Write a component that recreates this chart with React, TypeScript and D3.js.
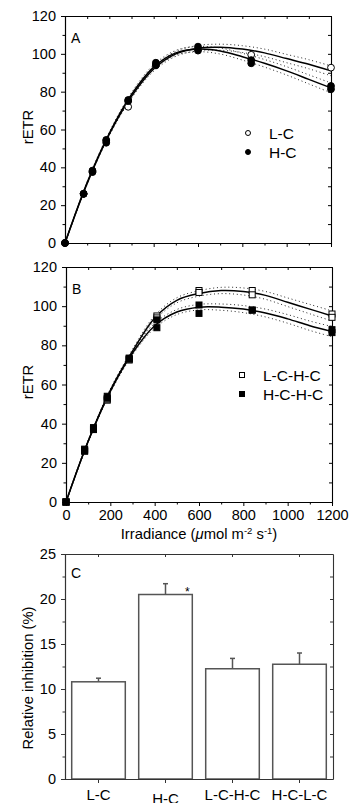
import React, { useEffect, useRef } from 'react';
import * as d3 from 'd3';

// measured irradiance steps (umol m-2 s-1)
const irradiance = [0, 84, 124, 186, 285, 410, 600, 840, 1200];

// panel A replicates
const lcA = [0, 26, 37.5, 54, 72, 94, 102.5, 99.5, 92.7];
const hcA1 = [0, 26, 38.3, 54.5, 75.6, 95.3, 103.8, 96.7, 83];
const hcA2 = [0, 26, 37.6, 53, 75, 94, 101.7, 95, 81.3];

// panel B replicates
const lchcB1 = [0, 26, 37, 52, 72.5, 95, 108, 108, 96];
const lchcB2 = [0, 26.5, 37.5, 52.5, 73, 94, 107, 105.8, 94.3];
const hchcB1 = [0, 27, 38, 54, 73.5, 93, 100.6, 98, 88];
const hchcB2 = [0, 26, 37, 53, 73, 89, 96.3, 98, 86.5];

// fitted curves
const fitX = [0, 100, 200, 300, 400, 500, 600, 700, 800, 900, 1000, 1100, 1200];
const fitLC = [0, 31.5, 57.5, 77.5, 92, 100, 103, 103.5, 102.5, 100.5, 97.5, 94.5, 91];
const fitHC = [0, 32, 58, 78.5, 93, 100.5, 102.5, 101.5, 98.5, 95, 91, 86.5, 82];
const fitLCHC = [0, 31, 57, 77, 94, 103, 106.5, 108, 107.5, 105.5, 102, 98.5, 95];
const fitHCHC = [0, 31, 56.5, 76, 90, 97, 99.5, 99.5, 98.5, 96.5, 93.5, 90, 87];
const bandHalf = [0, 0.4, 0.7, 1, 1.2, 1.3, 1.4, 1.6, 1.8, 2, 2.2, 2.4, 2.6];

// panel C
const categories = ['L-C', 'H-C', 'L-C-H-C', 'H-C-L-C'];
const inhibition = [10.8, 20.5, 12.25, 12.75];
const inhibitionErr = [0.4, 1.2, 1.15, 1.25];
const significance = ['', '*', '', ''];

const FONT = '"Liberation Sans", Arial, Helvetica, sans-serif';
const TICK_FS = '14.5px';
const TITLE_FS = '14.8px';

type Series = { values: number[]; shape: 'circle' | 'square'; filled: boolean };

interface LinePanel {
  top: number;
  bottom: number;
  left: number;
  right: number;
  label: string;
  titleY: number;
  fits: number[][];
  series: Series[];
  legend: { text: string; shape: 'circle' | 'square'; filled: boolean }[];
  legendX: number;
  legendY: number;
  xLabels: boolean;
}

function styleAxis(g: d3.Selection<SVGGElement, unknown, null, undefined>, color = '#000') {
  g.select('.domain').attr('stroke', color).attr('stroke-width', 1.1);
  g.selectAll('.tick line').attr('stroke', color);
  g.selectAll('text').attr('fill', '#000').style('font-family', FONT).style('font-size', TICK_FS);
}

function drawMarker(g: d3.Selection<SVGGElement, unknown, null, undefined>, cx: number, cy: number, shape: string, filled: boolean, size: number) {
  if (shape === 'circle') {
    g.append('circle')
      .attr('cx', cx).attr('cy', cy).attr('r', size / 2)
      .attr('fill', filled ? '#000' : '#fff')
      .attr('stroke', '#000').attr('stroke-width', 1);
  } else {
    g.append('rect')
      .attr('x', cx - size / 2).attr('y', cy - size / 2)
      .attr('width', size).attr('height', size)
      .attr('fill', filled ? '#000' : '#fff')
      .attr('stroke', '#000').attr('stroke-width', 1);
  }
}

function drawLinePanel(svg: d3.Selection<SVGSVGElement, unknown, null, undefined>, p: LinePanel) {
  const g = svg.append('g');
  const x = d3.scaleLinear().domain([0, 1200]).range([p.left, p.right]);
  const y = d3.scaleLinear().domain([0, 120]).range([p.bottom, p.top]);

  // left axis
  const left = g.append('g').attr('transform', `translate(${p.left},0)`)
    .call(d3.axisLeft(y).tickValues(d3.range(0, 121, 20)).tickSize(4).tickSizeOuter(0).tickPadding(5));
  styleAxis(left);
  const leftMinor = g.append('g').attr('transform', `translate(${p.left},0)`)
    .call(d3.axisLeft(y).tickValues(d3.range(10, 120, 20)).tickSize(2.5).tickFormat(() => ''));
  styleAxis(leftMinor);

  // right axis (ticks inward)
  const right = g.append('g').attr('transform', `translate(${p.right},0)`)
    .call(d3.axisLeft(y).tickValues(d3.range(0, 121, 10)).tickSize(3).tickSizeOuter(0).tickFormat(() => ''));
  styleAxis(right);

  // top axis (ticks inward)
  const top = g.append('g').attr('transform', `translate(0,${p.top})`)
    .call(d3.axisBottom(x).tickValues(d3.range(0, 1201, 100)).tickSize(3).tickSizeOuter(0).tickFormat(() => ''));
  styleAxis(top);

  // bottom axis
  const bottom = g.append('g').attr('transform', `translate(0,${p.bottom})`)
    .call(d3.axisBottom(x).tickValues(d3.range(0, 1201, 200)).tickSize(4).tickSizeOuter(0).tickPadding(3.5)
      .tickFormat(p.xLabels ? (d => String(d)) : () => ''));
  styleAxis(bottom);
  const bottomMinor = g.append('g').attr('transform', `translate(0,${p.bottom})`)
    .call(d3.axisBottom(x).tickValues(d3.range(100, 1200, 200)).tickSize(2.5).tickFormat(() => ''));
  styleAxis(bottomMinor);

  // y title
  g.append('text')
    .attr('transform', `translate(33,${p.titleY}) rotate(-90)`)
    .attr('text-anchor', 'middle')
    .style('font-family', FONT).style('font-size', TITLE_FS)
    .text('rETR');

  // panel letter
  g.append('text')
    .attr('x', p.left + 6).attr('y', p.top + 27)
    .style('font-family', FONT).style('font-size', '14px')
    .text(p.label);

  // fits with dotted confidence bands
  const line = d3.line<number>()
    .x((_, i) => x(fitX[i]))
    .y(d => y(d))
    .curve(d3.curveCatmullRom);

  p.fits.forEach(fit => {
    [1, -1].forEach(sign => {
      g.append('path')
        .attr('d', line(fit.map((v, i) => v + sign * bandHalf[i])))
        .attr('fill', 'none')
        .attr('stroke', '#111')
        .attr('stroke-width', 0.9)
        .attr('stroke-dasharray', '1,2.8');
    });
    g.append('path')
      .attr('d', line(fit))
      .attr('fill', 'none')
      .attr('stroke', '#000')
      .attr('stroke-width', 1.5);
  });

  // data points
  const pts = g.append('g');
  p.series.forEach(s => {
    s.values.forEach((v, i) => {
      drawMarker(pts, x(irradiance[i]), y(v), s.shape, s.filled, s.shape === 'circle' ? 6.8 : 6);
    });
  });

  // legend
  p.legend.forEach((l, i) => {
    const ly = p.legendY + i * 19;
    drawMarker(g, p.legendX, ly, l.shape, l.filled, 5);
    g.append('text')
      .attr('x', p.legendX + 21).attr('y', ly + 5.5)
      .style('font-family', FONT).style('font-size', '15.5px')
      .text(l.text);
  });

  return x;
}

export default function App() {
  const svgRef = useRef<SVGSVGElement>(null);

  useEffect(() => {
    if (!svgRef.current) return;
    const svg = d3.select(svgRef.current);
    svg.selectAll('*').remove();

    drawLinePanel(svg, {
      top: 16, bottom: 243, left: 65, right: 331, label: 'A', titleY: 127,
      fits: [fitLC, fitHC],
      series: [
        { values: lcA, shape: 'circle', filled: false },
        { values: hcA1, shape: 'circle', filled: true },
        { values: hcA2, shape: 'circle', filled: true },
      ],
      legend: [
        { text: 'L-C', shape: 'circle', filled: false },
        { text: 'H-C', shape: 'circle', filled: true },
      ],
      legendX: 248, legendY: 133, xLabels: false,
    });

    drawLinePanel(svg, {
      top: 267, bottom: 502, left: 66, right: 332, label: 'B', titleY: 382,
      fits: [fitLCHC, fitHCHC],
      series: [
        { values: lchcB1, shape: 'square', filled: false },
        { values: lchcB2, shape: 'square', filled: false },
        { values: hchcB1, shape: 'square', filled: true },
        { values: hchcB2, shape: 'square', filled: true },
      ],
      legend: [
        { text: 'L-C-H-C', shape: 'square', filled: false },
        { text: 'H-C-H-C', shape: 'square', filled: true },
      ],
      legendX: 242, legendY: 375, xLabels: true,
    });

    // x title of panel B
    const title = svg.append('text')
      .attr('x', 199).attr('y', 539)
      .attr('text-anchor', 'middle')
      .style('font-family', FONT).style('font-size', TITLE_FS);
    title.append('tspan').text('Irradiance (');
    title.append('tspan').style('font-style', 'italic').text('μ');
    title.append('tspan').text('mol m');
    title.append('tspan').attr('dy', -5).style('font-size', '9.5px').text('-2');
    title.append('tspan').attr('dy', 5).text(' s');
    title.append('tspan').attr('dy', -5).style('font-size', '9.5px').text('-1');
    title.append('tspan').attr('dy', 5).text(')');

    // panel C: bars
    const gc = svg.append('g');
    const xb = d3.scaleBand<string>().domain(categories).range([65, 333]).paddingInner(0.2).paddingOuter(0.1);
    const yb = d3.scaleLinear().domain([0, 25]).range([779, 554]);
    const axisColor = '#333';

    gc.selectAll('rect.bar')
      .data(categories)
      .enter()
      .append('rect')
      .attr('class', 'bar')
      .attr('x', d => xb(d)!)
      .attr('width', xb.bandwidth())
      .attr('y', (_, i) => yb(inhibition[i]))
      .attr('height', (_, i) => yb(0) - yb(inhibition[i]))
      .attr('fill', '#fff')
      .attr('stroke', '#555')
      .attr('stroke-width', 1.5);

    categories.forEach((c, i) => {
      const cx = xb(c)! + xb.bandwidth() / 2;
      const y0 = yb(inhibition[i]);
      const y1 = yb(inhibition[i] + inhibitionErr[i]);
      gc.append('line').attr('x1', cx).attr('x2', cx).attr('y1', y0).attr('y2', y1)
        .attr('stroke', '#555').attr('stroke-width', 1.5);
      gc.append('line').attr('x1', cx - 2.5).attr('x2', cx + 2.5).attr('y1', y1).attr('y2', y1)
        .attr('stroke', '#555').attr('stroke-width', 1.5);
      if (significance[i]) {
        gc.append('text')
          .attr('x', xb(c)! + xb.bandwidth() - 5).attr('y', y1 + 12)
          .attr('text-anchor', 'middle')
          .style('font-family', FONT).style('font-size', '12px')
          .text(significance[i]);
      }
    });

    const cLeft = gc.append('g').attr('transform', 'translate(65,0)')
      .call(d3.axisLeft(yb).tickValues(d3.range(0, 26, 5)).tickSize(4).tickSizeOuter(0).tickPadding(5));
    styleAxis(cLeft, axisColor);
    const cLeftMinor = gc.append('g').attr('transform', 'translate(65,0)')
      .call(d3.axisLeft(yb).tickValues(d3.range(2.5, 25, 5)).tickSize(2.5).tickFormat(() => ''));
    styleAxis(cLeftMinor, axisColor);
    const cRight = gc.append('g').attr('transform', 'translate(333,0)')
      .call(d3.axisLeft(yb).tickValues(d3.range(0, 26, 2.5)).tickSize(3).tickSizeOuter(0).tickFormat(() => ''));
    styleAxis(cRight, axisColor);
    const cTop = gc.append('g').attr('transform', 'translate(0,554)')
      .call(d3.axisBottom(xb).tickSize(3).tickSizeOuter(0).tickFormat(() => ''));
    styleAxis(cTop, axisColor);
    const cBottom = gc.append('g').attr('transform', 'translate(0,779)')
      .call(d3.axisBottom(xb).tickSize(4).tickSizeOuter(0).tickPadding(6));
    styleAxis(cBottom, axisColor);
    cBottom.selectAll('text')
      .style('font-size', '15px')
      .attr('dy', (d: any) => (d === 'H-C' ? '1.0em' : '0.71em'));

    gc.append('text')
      .attr('transform', 'translate(33,678) rotate(-90)')
      .attr('text-anchor', 'middle')
      .style('font-family', FONT).style('font-size', TITLE_FS)
      .text('Relative inhibition (%)');

    gc.append('text')
      .attr('x', 71).attr('y', 578)
      .style('font-family', FONT).style('font-size', '14px')
      .text('C');
  }, []);

  return (
    <svg
      ref={svgRef}
      width={349}
      height={803}
      style={{ position: 'absolute', left: 0, top: 0, background: '#fff' }}
    />
  );
}
